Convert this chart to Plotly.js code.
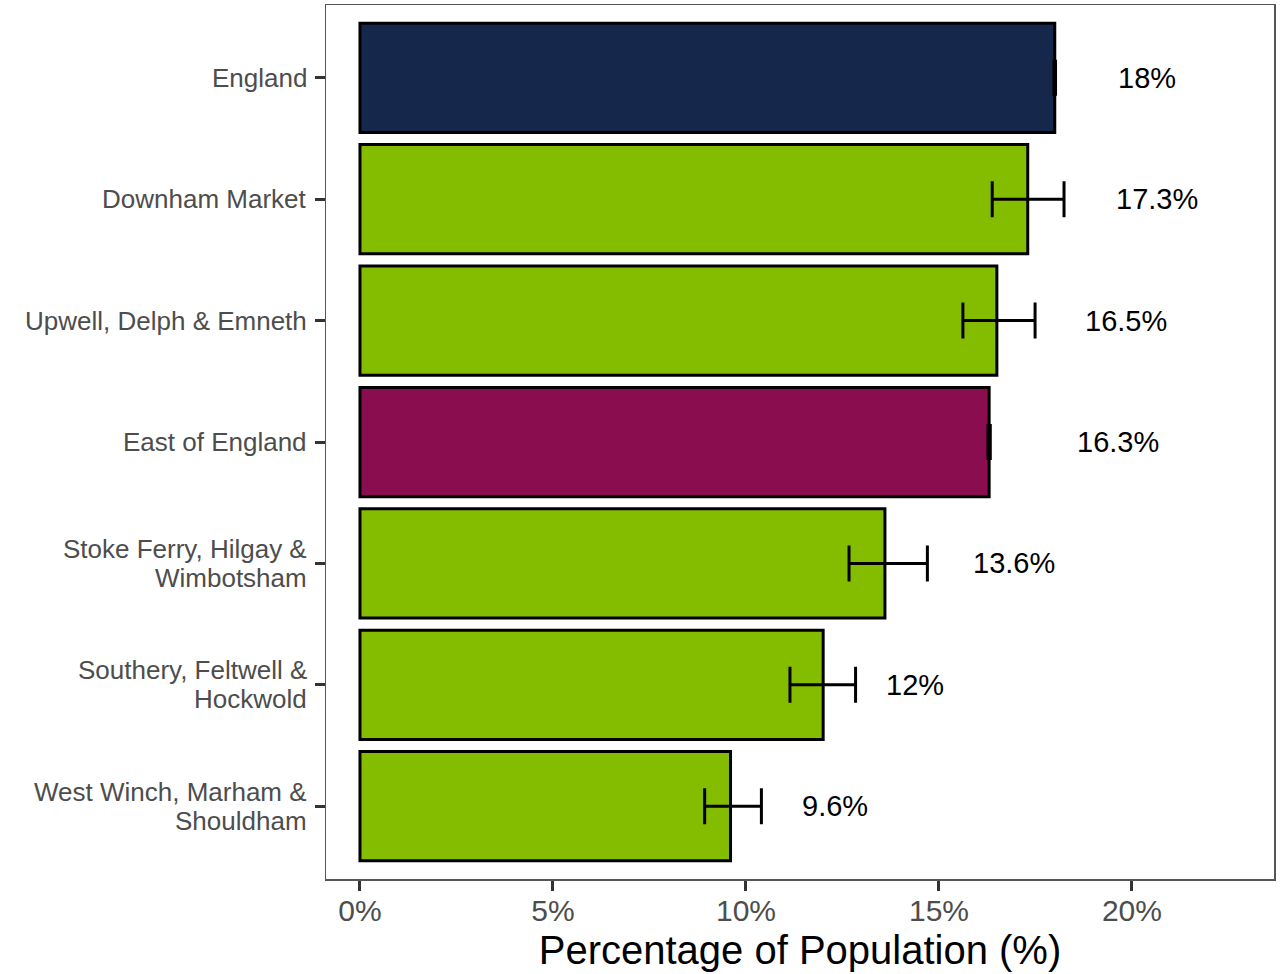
<!DOCTYPE html>
<html>
<head>
<meta charset="utf-8">
<script src="https://cdn.plot.ly/plotly-3.0.1.min.js"></script>
<style>
  html, body { margin: 0; padding: 0; background: #fff; }
  #chart { width: 1283px; height: 974px; }
</style>
</head>
<body>
<div id="chart"></div>
<script>
// ---- Data ----
const areas = [
  'England',
  'Downham Market',
  'Upwell, Delph & Emneth',
  'East of England',
  'Stoke Ferry, Hilgay & Wimbotsham',
  'Southery, Feltwell & Hockwold',
  'West Winch, Marham & Shouldham'
];
// display lines for the axis labels
const areaLines = [
  ['England'],
  ['Downham Market'],
  ['Upwell, Delph & Emneth'],
  ['East of England'],
  ['Stoke Ferry, Hilgay &', 'Wimbotsham'],
  ['Southery, Feltwell &', 'Hockwold'],
  ['West Winch, Marham &', 'Shouldham']
];
const values = [18.0, 17.3, 16.5, 16.3, 13.6, 12.0, 9.6];
const lowerCI = [17.98, 16.38, 15.62, 16.27, 12.67, 11.14, 8.93];
const upperCI = [18.02, 18.24, 17.49, 16.33, 14.70, 12.84, 10.40];
const valueLabels = ['18%', '17.3%', '16.5%', '16.3%', '13.6%', '12%', '9.6%'];
const areaTypes = ['england', 'ward', 'ward', 'region', 'ward', 'ward', 'ward'];
const xTicks = [0, 5, 10, 15, 20];
const xTickText = ['0%', '5%', '10%', '15%', '20%'];

const typeColours = { england: '#15284c', region: '#8a0d50', ward: '#84bd00' };
const FONT = '"Liberation Sans", Arial, Helvetica, sans-serif';

// text width measurement (for ggplot-style hjust offset of value labels)
const cv = document.createElement('canvas');
const ctx = cv.getContext('2d');
ctx.font = '29px "Liberation Sans"';
function textWidth(t) { return ctx.measureText(t).width; }

const bars = {
  type: 'bar',
  orientation: 'h',
  y: areas,
  x: values,
  width: 0.9,
  marker: {
    color: areaTypes.map(t => typeColours[t]),
    line: { color: '#000000', width: 3 }
  },
  error_x: {
    type: 'data',
    symmetric: false,
    array: upperCI.map((u, i) => u - values[i]),
    arrayminus: values.map((v, i) => v - lowerCI[i]),
    color: '#000000',
    thickness: 3,
    width: 18
  },
  hoverinfo: 'x+y',
  showlegend: false
};

const annotations = [];
// value labels
valueLabels.forEach((lab, i) => {
  annotations.push({
    x: values[i], y: areas[i], xref: 'x', yref: 'y',
    text: lab, showarrow: false,
    xanchor: 'left', yanchor: 'middle',
    xshift: 1.05 * textWidth(lab),
    font: { family: FONT, size: 29, color: '#000000' }
  });
});
// category labels (two-line labels with tight ggplot line spacing)
const lineGap = 29;
areaLines.forEach((lines, i) => {
  const n = lines.length;
  lines.forEach((ln, j) => {
    annotations.push({
      x: 0, y: areas[i], xref: 'paper', yref: 'y',
      text: ln, showarrow: false,
      xanchor: 'right', yanchor: 'middle',
      xshift: -17,
      yshift: ((n - 1) / 2 - j) * lineGap,
      font: { family: FONT, size: 26, color: '#4d4d4d' }
    });
  });
});

const layout = {
  width: 1283,
  height: 974,
  margin: { l: 326, r: 9, t: 5, b: 95, pad: 0 },
  paper_bgcolor: '#ffffff',
  plot_bgcolor: '#ffffff',
  font: { family: FONT },
  xaxis: {
    range: [-0.88, 23.68],
    tickvals: xTicks,
    ticktext: xTickText,
    ticks: 'outside',
    ticklen: 10,
    tickwidth: 3,
    tickcolor: '#333333',
    ticklabelstandoff: -6,
    tickfont: { family: FONT, size: 30, color: '#4d4d4d' },
    showgrid: false,
    zeroline: false,
    showline: true,
    linecolor: '#555555',
    linewidth: 1.5,
    mirror: true,
    title: {
      text: 'Percentage of Population (%)',
      font: { family: FONT, size: 40, color: '#000000' },
      standoff: 10
    },
    fixedrange: true
  },
  yaxis: {
    type: 'category',
    categoryorder: 'array',
    categoryarray: areas,
    range: [6.6, -0.6],
    ticks: 'outside',
    ticklen: 10,
    tickwidth: 3,
    tickcolor: '#333333',
    showticklabels: false,
    showgrid: false,
    zeroline: false,
    showline: true,
    linecolor: '#555555',
    linewidth: 1.5,
    mirror: true,
    fixedrange: true
  },
  annotations: annotations,
  bargap: 0.1
};

Plotly.newPlot('chart', [bars], layout, { displayModeBar: false, staticPlot: true });
</script>
</body>
</html>
